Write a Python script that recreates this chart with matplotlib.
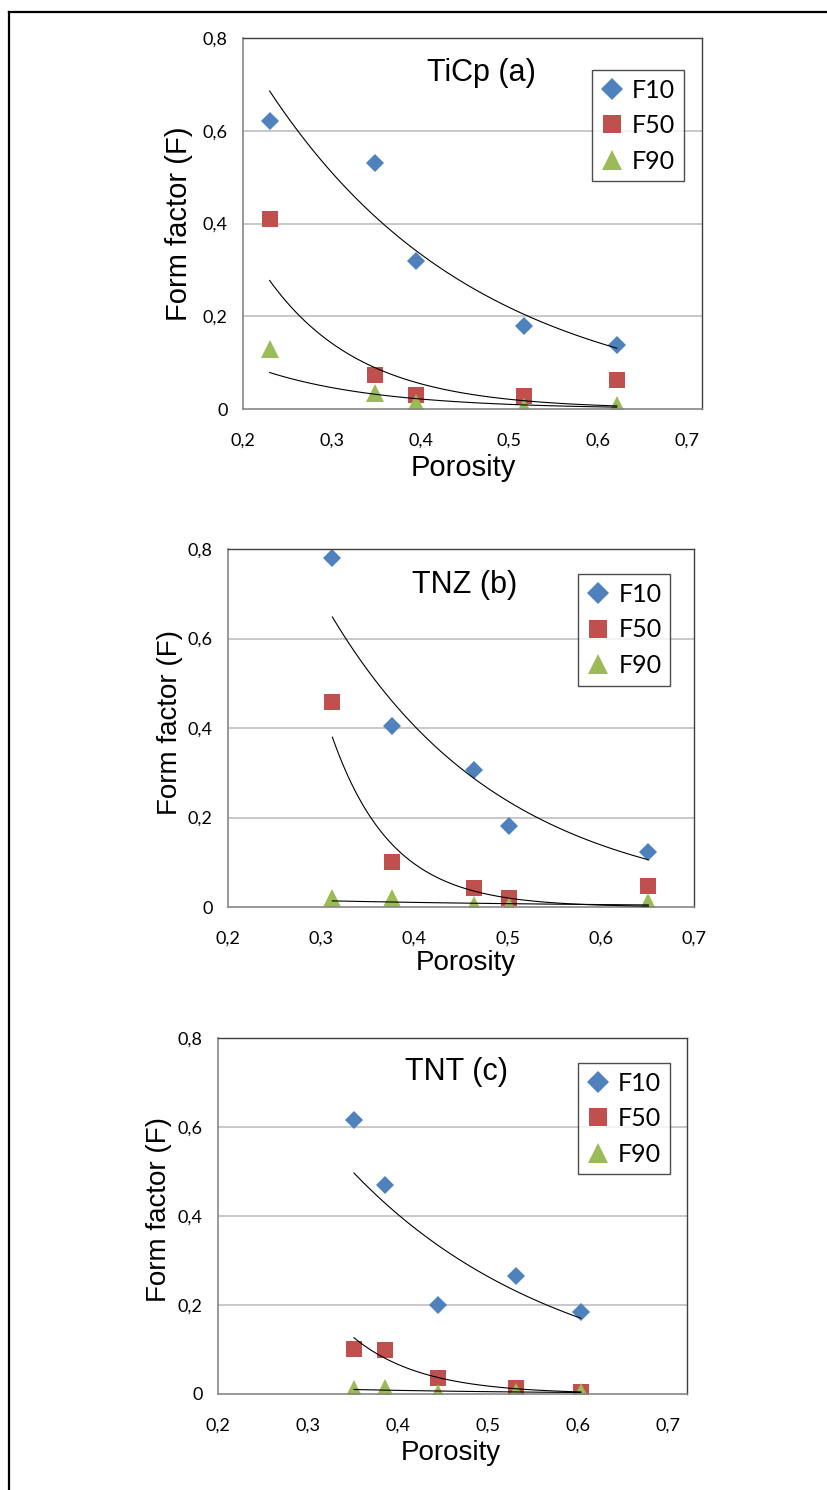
import matplotlib
matplotlib.use("Agg")
import matplotlib.pyplot as plt
from matplotlib.lines import Line2D
import numpy as np

# porosity values and form factors
x_a = [0.230, 0.349, 0.395, 0.517, 0.621]
f10_a = [0.620, 0.530, 0.320, 0.180, 0.137]
f50_a = [0.409, 0.073, 0.030, 0.028, 0.063]
f90_a = [0.130, 0.035, 0.012, 0.004, 0.009]

x_b = [0.312, 0.376, 0.464, 0.502, 0.651]
f10_b = [0.781, 0.404, 0.306, 0.180, 0.122]
f50_b = [0.457, 0.100, 0.043, 0.019, 0.047]
f90_b = [0.021, 0.019, 0.005, 0.002, 0.011]

x_c = [0.351, 0.385, 0.444, 0.531, 0.603]
f10_c = [0.615, 0.469, 0.199, 0.265, 0.185]
f50_c = [0.101, 0.100, 0.037, 0.014, 0.004]
f90_c = [0.011, 0.014, 0.003, 0.005, 0.004]

# how many leading points enter each exponential trend line (F10, F50, F90)
fit_n_a = [5, 4, 5]
fit_n_b = [5, 4, 5]
fit_n_c = [5, 5, 5]

titles = ["TiCp (a)", "TNZ (b)", "TNT (c)"]
series_names = ["F10", "F50", "F90"]
x_ticks = [0.2, 0.3, 0.4, 0.5, 0.6, 0.7]
x_tick_labels = ["0,2", "0,3", "0,4", "0,5", "0,6", "0,7"]
y_ticks = [0, 0.2, 0.4, 0.6, 0.8]
y_tick_labels = ["0", "0,2", "0,4", "0,6", "0,8"]

colors = ["#4F81BD", "#C0504D", "#9BBB59"]
markers = ["D", "s", "^"]
msizes = [9.5, 11, 12.5]

W, H = 828, 1490
fig = plt.figure(figsize=(W / 100, H / 100), dpi=100)

# panel boxes in pixels: left, top, right, bottom, xmax
boxes = [(243, 38, 702, 409, 0.717),
         (228, 549, 694, 907, 0.700),
         (218, 1038, 687, 1394, 0.721)]
title_pos = [(481, 73), (465, 585), (457, 1072)]
ylab_pos = [(-0.139, 0.50), (-0.124, 0.514), (-0.126, 0.517)]
xlab_pos = [(0.479, -0.159), (0.511, -0.156), (0.497, -0.166)]
leg_pos = [(0.760, 0.914), (0.752, 0.930), (0.768, 0.930)]
lab_sizes = [21, 20, 20]

panels = [(x_a, [f10_a, f50_a, f90_a], fit_n_a),
          (x_b, [f10_b, f50_b, f90_b], fit_n_b),
          (x_c, [f10_c, f50_c, f90_c], fit_n_c)]

for i, (xs, ys_list, fit_n) in enumerate(panels):
    l, t, r, b, xmax = boxes[i]
    ax = fig.add_axes([l / W, 1 - b / H, (r - l) / W, (b - t) / H])
    xs = np.array(xs)
    for j, ys in enumerate(ys_list):
        ys = np.array(ys)
        ax.plot(xs, ys, linestyle="none", marker=markers[j], color=colors[j],
                markersize=msizes[j], markeredgewidth=0, label=series_names[j], zorder=2)
        # Excel-style exponential trend line
        n = fit_n[j]
        k, c0 = np.polyfit(xs[:n], np.log(ys[:n]), 1)
        xx = np.linspace(xs.min(), xs.max(), 100)
        ax.plot(xx, np.exp(c0 + k * xx), color="black", lw=0.8, zorder=3)

    ax.set_xlim(0.2, xmax)
    ax.set_ylim(0, 0.8)
    ax.set_xticks(x_ticks)
    ax.set_xticklabels(x_tick_labels, family="Lato", fontsize=13)
    ax.set_yticks(y_ticks)
    ax.set_yticklabels(y_tick_labels, family="Lato", fontsize=13)
    ax.tick_params(axis="x", length=0, pad=17)
    ax.tick_params(axis="y", length=0, pad=11)
    for yv in y_ticks[1:-1]:
        ax.axhline(yv, color="#BFBFBF", lw=1.2, zorder=0)
    for s in ["left", "bottom"]:
        ax.spines[s].set_color("#868686")
        ax.spines[s].set_linewidth(1.2)
    for s in ["top", "right"]:
        ax.spines[s].set_color("#404040")
        ax.spines[s].set_linewidth(1.0)

    ax.set_ylabel("Form factor (F)", family="Liberation Sans", fontsize=lab_sizes[i], va="center")
    ax.yaxis.set_label_coords(*ylab_pos[i])
    ax.set_xlabel("Porosity", family="Liberation Sans", fontsize=lab_sizes[i], va="center")
    ax.xaxis.set_label_coords(*xlab_pos[i])

    tx, ty = title_pos[i]
    fig.text(tx / W, 1 - ty / H, titles[i], family="Liberation Sans", fontsize=22,
             ha="center", va="center")

    leg = ax.legend(loc="upper left", bbox_to_anchor=leg_pos[i], borderaxespad=0,
                    prop={"family": "Lato", "size": 18}, frameon=True, fancybox=False,
                    handlelength=0.9, handletextpad=0.35, labelspacing=0.5,
                    borderpad=0.35, markerscale=1.2)
    leg.get_frame().set_edgecolor("#202020")
    leg.get_frame().set_linewidth(1.0)

# scan frame on the left and top
fig.add_artist(Line2D([9 / W, 9 / W], [0, 1 - 12 / H], color="black", lw=1.6))
fig.add_artist(Line2D([9 / W, 1], [1 - 12 / H, 1 - 12 / H], color="black", lw=1.6))

fig.savefig("out.png", dpi=100)
